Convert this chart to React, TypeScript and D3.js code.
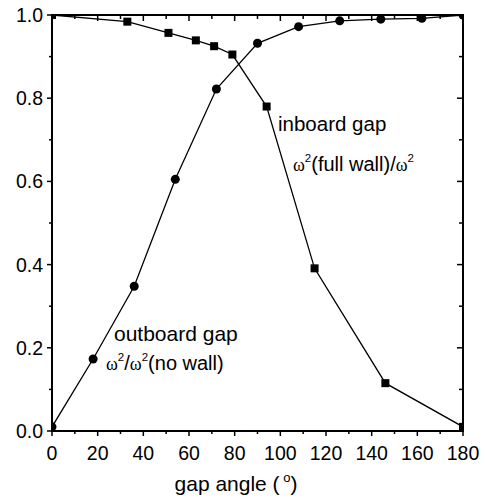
import React from "react";
import * as d3 from "d3";

const outboardAngles = [0, 18, 36, 54, 72, 90, 108, 126, 144, 162, 180];
const outboardValues = [0.01, 0.173, 0.348, 0.605, 0.822, 0.932, 0.972, 0.986, 0.99, 0.992, 1.0];
const inboardAngles = [0, 33, 51, 63, 71, 79, 94, 115, 146, 180];
const inboardValues = [1.0, 0.984, 0.957, 0.939, 0.925, 0.905, 0.78, 0.391, 0.115, 0.01];
const xTicks = [0, 20, 40, 60, 80, 100, 120, 140, 160, 180];
const yTicks = [0.0, 0.2, 0.4, 0.6, 0.8, 1.0];

const W = 485, H = 500;
const L = 52, R = 463, T = 15, B = 431;

export default function App() {
  const x = d3.scaleLinear().domain([0, 180]).range([L, R]);
  const y = d3.scaleLinear().domain([0, 1]).range([B, T]);
  const outData = outboardAngles.map((a, i) => [a, outboardValues[i]] as [number, number]);
  const inData = inboardAngles.map((a, i) => [a, inboardValues[i]] as [number, number]);
  const line = d3.line<[number, number]>().x(d => x(d[0])).y(d => y(d[1]));
  const xMinor = d3.range(0, 181, 10);
  const yMinor = d3.range(0, 1.001, 0.1);
  const font = "Liberation Sans, Arial, sans-serif";
  const serif = "Liberation Serif, Times New Roman, serif";
  return (
    <svg width={W} height={H} style={{ position: "absolute", left: 0, top: 0, background: "#fff" }}>
      <defs>
        <clipPath id="plot">
          <rect x={L} y={T} width={R - L} height={B - T} />
        </clipPath>
      </defs>
      <g clipPath="url(#plot)">
        <path d={line(outData) || ""} fill="none" stroke="#000" strokeWidth={1.3} />
        <path d={line(inData) || ""} fill="none" stroke="#000" strokeWidth={1.3} />
        {outData.map((d, i) => (
          <circle key={"c" + i} cx={x(d[0])} cy={y(d[1])} r={4.5} fill="#000" />
        ))}
        {inData.map((d, i) => (
          <rect key={"s" + i} x={x(d[0]) - 4} y={y(d[1]) - 4} width={8} height={8} fill="#000" />
        ))}
      </g>
      {xMinor.map((v, i) => {
        const major = Math.round(v) % 20 === 0;
        const len = major ? 5 : 3;
        return (
          <g key={"xt" + i}>
            <line x1={x(v)} x2={x(v)} y1={B} y2={B + len} stroke="#000" strokeWidth={1.5} />
            <line x1={x(v)} x2={x(v)} y1={T} y2={T + len + 1} stroke="#000" strokeWidth={1.5} />
          </g>
        );
      })}
      {yMinor.map((v, i) => {
        const major = i % 2 === 0;
        const len = major ? 5 : 3;
        return (
          <g key={"yt" + i}>
            <line x1={L - len} x2={L} y1={y(v)} y2={y(v)} stroke="#000" strokeWidth={1.5} />
            <line x1={R - len - 1} x2={R} y1={y(v)} y2={y(v)} stroke="#000" strokeWidth={1.5} />
          </g>
        );
      })}
      <rect x={L} y={T} width={R - L} height={B - T} fill="none" stroke="#000" strokeWidth={2} />
      {xTicks.map((v, i) => (
        <text key={"xl" + i} x={x(v)} y={460} textAnchor="middle" fontFamily={font} fontSize={19.5}>
          {v}
        </text>
      ))}
      {yTicks.map((v, i) => (
        <text key={"yl" + i} x={43} y={y(v) + 7} textAnchor="end" fontFamily={font} fontSize={19.5}>
          {v.toFixed(1)}
        </text>
      ))}
      <text x={236} y={491} textAnchor="middle" fontFamily={font} fontSize={21}>
        gap angle (
        <tspan fontSize={13} dy={-9}> o</tspan>
        <tspan dy={9}>)</tspan>
      </text>
      <text x={278} y={131} fontFamily={font} fontSize={20.5}>inboard gap</text>
      <text x={293} y={171} fontFamily={font} fontSize={20}>
        <tspan fontFamily={serif} fontSize={18}>ω</tspan>
        <tspan fontSize={11.5} dy={-9}>2</tspan>
        <tspan dy={9}>(full wall)/</tspan>
        <tspan fontFamily={serif} fontSize={18}>ω</tspan>
        <tspan fontSize={11.5} dy={-9}>2</tspan>
      </text>
      <text x={114} y={341} fontFamily={font} fontSize={21}>outboard gap</text>
      <text x={106} y={370} fontFamily={font} fontSize={20}>
        <tspan fontFamily={serif} fontSize={18}>ω</tspan>
        <tspan fontSize={11.5} dy={-9}>2</tspan>
        <tspan dy={9}>/</tspan>
        <tspan fontFamily={serif} fontSize={18}>ω</tspan>
        <tspan fontSize={11.5} dy={-9}>2</tspan>
        <tspan dy={9}>(no wall)</tspan>
      </text>
    </svg>
  );
}
